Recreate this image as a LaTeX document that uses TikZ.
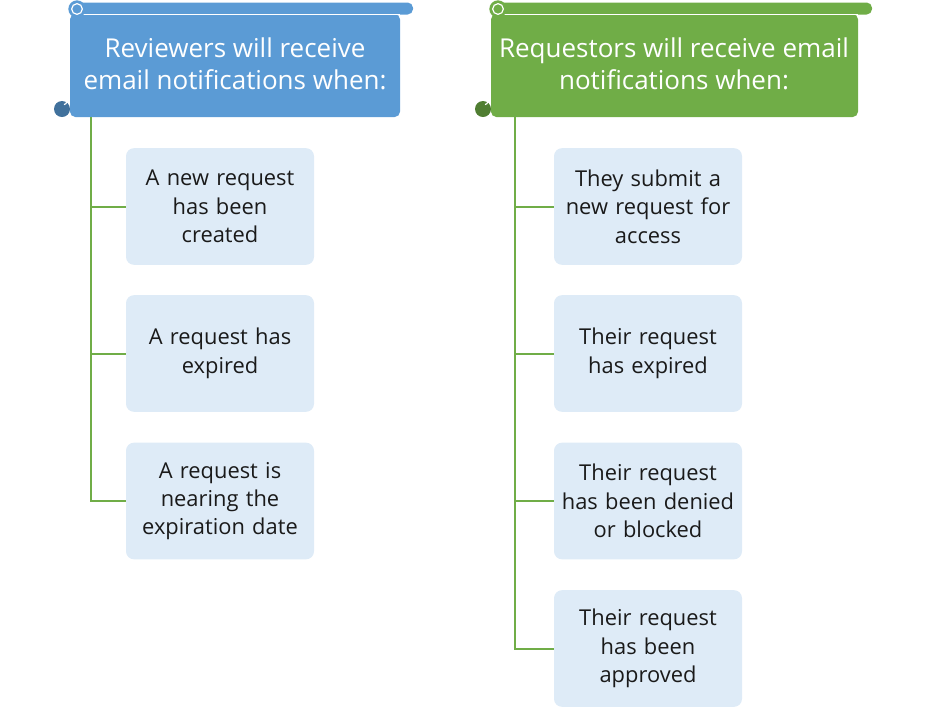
\documentclass[tikz,border=0pt]{standalone}
\usepackage{fontspec}
\setmainfont{Open Sans}
\definecolor{hblue}{HTML}{5B9BD5}
\definecolor{hbluedk}{HTML}{41719C}
\definecolor{hgreen}{HTML}{70AD47}
\definecolor{hgreendk}{HTML}{507E32}
\definecolor{boxfill}{HTML}{DEEBF7}
\definecolor{txt}{HTML}{1A1A1A}
\begin{document}
\begin{tikzpicture}[x=0.75pt,y=-0.75pt,
  itembox/.style={rectangle,rounded corners=6pt,fill=boxfill,minimum width=141pt,minimum height=87.5pt,
    text width=136pt,align=center,font=\fontsize{16.4}{21.3}\selectfont,text=txt,inner sep=0pt},
  hdrtext/.style={align=center,text=white,font=\fontsize{19.5}{24}\selectfont,inner sep=0pt},
  conn/.style={draw=hgreen,line width=1.5pt}]
\useasboundingbox (0,0) rectangle (927,708);
% ---- blue scroll
\fill[hblue,rounded corners=4pt] (70,14) -- (400,14) -- (400,117) -- (70,117) -- cycle;
\fill[hblue,rounded corners=4pt] (70,2.5) rectangle (413,14.5);
\draw[white,line width=0.8pt] (82,14.5) -- (400,14.5);
\fill[hblue] (77,9) circle (6.5pt);
\draw[white,line width=0.9pt] (77,9) circle (4pt);
\fill[hbluedk] (62,109) circle (6pt);
\draw[white,line width=0.9pt] (64,104.5) arc (-90:90:2pt);
\node[hdrtext] (hA) at (235,64) {Reviewers will receive\\email notifications when:};
% ---- green scroll
\fill[hgreen,rounded corners=4pt] (491,14) -- (858,14) -- (858,117) -- (491,117) -- cycle;
\fill[hgreen,rounded corners=4pt] (491,2.5) rectangle (872,14.5);
\draw[white,line width=0.8pt] (503,14.5) -- (858,14.5);
\fill[hgreen] (498,9) circle (6.5pt);
\draw[white,line width=0.9pt] (498,9) circle (4pt);
\fill[hgreendk] (483,109) circle (6pt);
\draw[white,line width=0.9pt] (485,104.5) arc (-90:90:2pt);
\node[hdrtext] (hB) at (674,64) {Requestors will receive email\\notifications when:};
% ---- items left
\node[itembox] (a1) at (220,206.5) {A new request\\has been\\created};
\node[itembox] (a2) at (220,353.5) {A request has\\expired};
\node[itembox] (a3) at (220,501) {A request is\\nearing the\\expiration date};
% ---- items right
\node[itembox] (b1) at (648,206.5) {They submit a\\new request for\\access};
\node[itembox] (b2) at (648,353.5) {Their request\\has expired};
\node[itembox] (b3) at (648,501) {Their request\\has been denied\\or blocked};
\node[itembox] (b4) at (648,648.5) {Their request\\has been\\approved};
% ---- connectors
\coordinate (ta) at (91,117);
\coordinate (tb) at (515,117);
\draw[conn] (ta) |- (a3.west);
\draw[conn] (ta |- a1.west) -- (a1.west);
\draw[conn] (ta |- a2.west) -- (a2.west);
\draw[conn] (tb) |- (b4.west);
\draw[conn] (tb |- b1.west) -- (b1.west);
\draw[conn] (tb |- b2.west) -- (b2.west);
\draw[conn] (tb |- b3.west) -- (b3.west);
\end{tikzpicture}
\end{document}
